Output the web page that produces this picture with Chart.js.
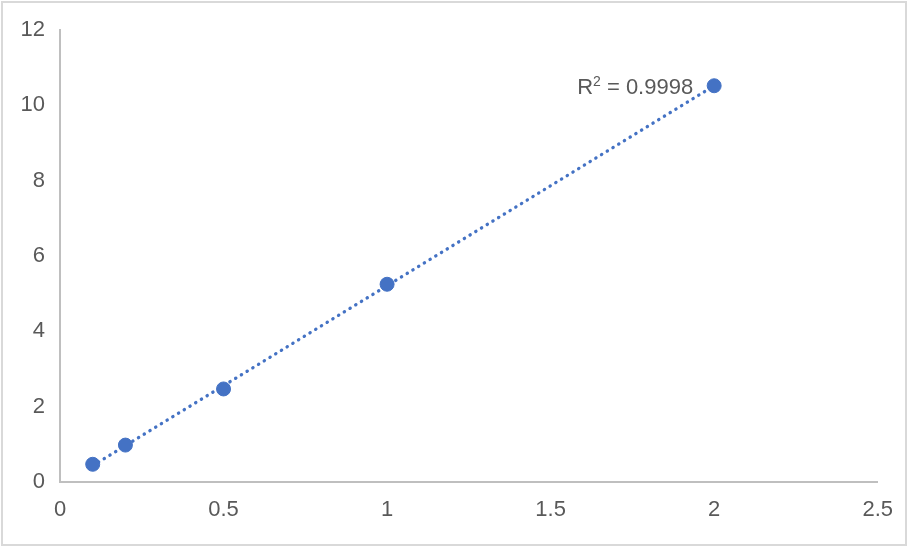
<!DOCTYPE html>
<html><head><meta charset="utf-8">
<script src="https://cdn.jsdelivr.net/npm/chart.js@4"></script>
<style>
html,body{margin:0;padding:0;background:#fff;}
#wrap{position:absolute;left:0;top:0;width:908px;height:547px;}
#frame{position:absolute;left:1px;top:1px;width:906px;height:545px;box-sizing:border-box;border:2px solid #d9d9d9;pointer-events:none;}
canvas{position:absolute;left:0;top:0;}
</style></head>
<body>
<div id="wrap"><canvas id="c" width="908" height="547"></canvas><div id="frame"></div></div>
<script>
const xValues = [0.1, 0.2, 0.5, 1, 2];
const yValues = [0.47, 0.98, 2.47, 5.25, 10.52];
const rSquaredLabel = "0.9998";
const xTicks = [0, 0.5, 1, 1.5, 2, 2.5];
const yTicks = [0, 2, 4, 6, 8, 10, 12];

// least-squares trendline from the data
const n = xValues.length;
const mx = xValues.reduce((a,b)=>a+b,0)/n;
const my = yValues.reduce((a,b)=>a+b,0)/n;
let sxy=0,sxx=0;
for(let i=0;i<n;i++){sxy+=(xValues[i]-mx)*(yValues[i]-my);sxx+=(xValues[i]-mx)**2;}
const slope=sxy/sxx, intercept=my-slope*mx;
const xMin=Math.min(...xValues), xMax=Math.max(...xValues);
const trend=[{x:xMin,y:slope*xMin+intercept},{x:xMax,y:slope*xMax+intercept}];

const FONT='"Liberation Sans", Arial, sans-serif';
const TXT='#595959', BLUE='#4472C4', AX='#bfbfbf';

const labelPlugin={
  id:'r2label',
  afterDatasetsDraw(chart){
    const {ctx,scales}=chart;
    const i=n-1;
    const px=scales.x.getPixelForValue(xValues[i]);
    const py=scales.y.getPixelForValue(yValues[i]);
    const right=px-21, base=py+8;
    ctx.save();
    ctx.fillStyle=TXT;ctx.textBaseline='alphabetic';ctx.textAlign='left';
    const big='22px '+FONT, small='14px '+FONT;
    const rest=' = '+rSquaredLabel;
    ctx.font=big;const wR=ctx.measureText('R').width, wRest=ctx.measureText(rest).width;
    ctx.font=small;const w2=ctx.measureText('2').width;
    let x=right-(wR+w2+wRest);
    ctx.font=big;ctx.fillText('R',x,base);x+=wR;
    ctx.font=small;ctx.fillText('2',x,base-8);x+=w2;
    ctx.font=big;ctx.fillText(rest,x,base);
    ctx.restore();
  }
};

new Chart(document.getElementById('c'),{
  type:'scatter',
  data:{datasets:[
    {label:'data',data:xValues.map((x,i)=>({x,y:yValues[i]})),backgroundColor:BLUE,borderColor:BLUE,pointRadius:7,pointHoverRadius:7,showLine:false,order:1},
    {label:'trend',data:trend,showLine:true,borderColor:BLUE,borderWidth:3.3,borderCapStyle:'round',borderDash:[0.3,6.4],pointRadius:0,fill:false,order:2}
  ]},
  plugins:[labelPlugin],
  options:{
    responsive:false,animation:false,
    layout:{padding:{top:30,right:30,left:0,bottom:0}},
    plugins:{legend:{display:false},tooltip:{enabled:false}},
    scales:{
      x:{type:'linear',min:0,max:2.5,
        afterBuildTicks(s){s.ticks=xTicks.map(v=>({value:v}));},
        afterFit(s){s.height=65;},
        grid:{display:false,drawTicks:false},
        border:{display:true,color:AX,width:2},
        ticks:{color:TXT,font:{family:FONT,size:22},padding:15,callback:v=>String(v)}},
      y:{type:'linear',min:0,max:12,
        afterBuildTicks(s){s.ticks=yTicks.map(v=>({value:v}));},
        afterFit(s){s.width=60;},
        grid:{display:false,drawTicks:false},
        border:{display:true,color:AX,width:2},
        ticks:{color:TXT,font:{family:FONT,size:22},padding:15,callback:v=>String(v)}}
    }
  }
});
</script>
</body></html>
